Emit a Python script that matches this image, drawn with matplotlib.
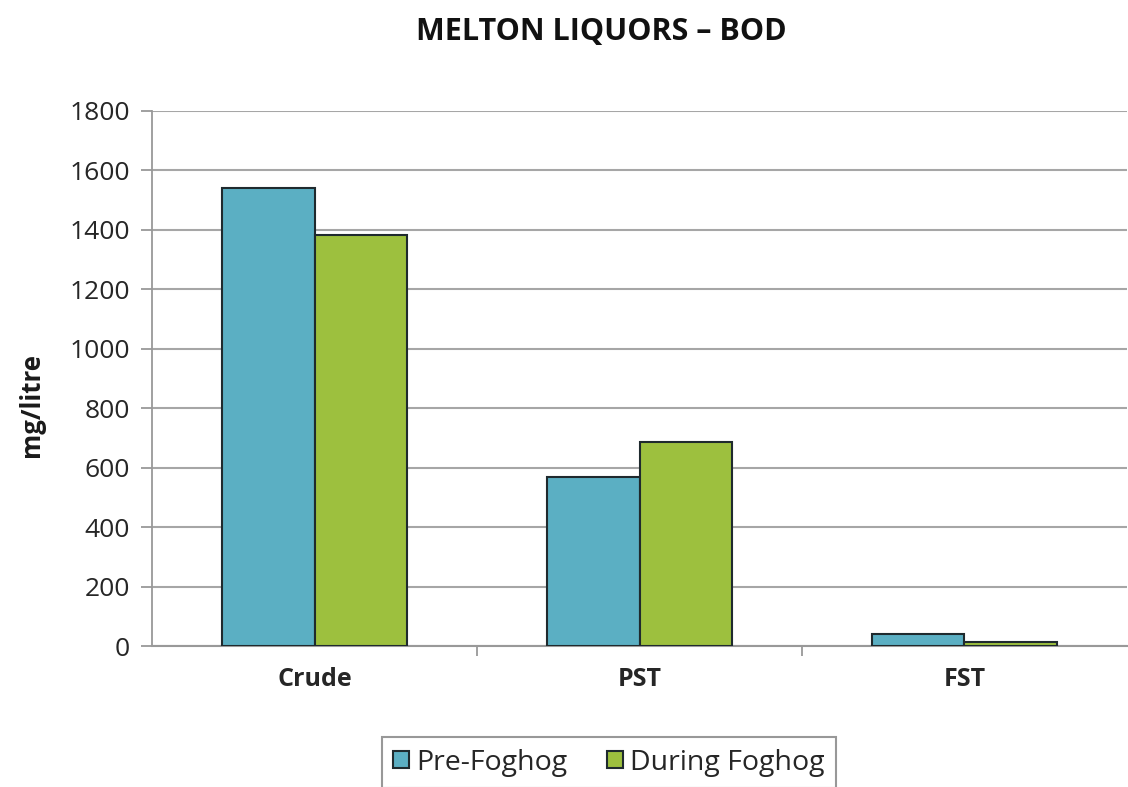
import numpy as np
import matplotlib.pyplot as plt

categories = ["Crude", "PST", "FST"]
pre_foghog = [1540, 570, 40]
during_foghog = [1382, 685, 15]
y_ticks = [0, 200, 400, 600, 800, 1000, 1200, 1400, 1600, 1800]

plt.rcParams['font.family'] = ['Open Sans', 'DejaVu Sans']

fig = plt.figure(figsize=(11.28, 7.87), dpi=100)
ax = fig.add_axes([0.135, 0.179, 0.864, 0.680])

x = np.arange(len(categories))
w = 0.285
ax.bar(x - w / 2, pre_foghog, w, color="#5BAFC3", edgecolor="#1f2a2e",
       linewidth=1.5, label="Pre-Foghog", zorder=3)
ax.bar(x + w / 2, during_foghog, w, color="#9DC03E", edgecolor="#1f2a2e",
       linewidth=1.5, label="During Foghog", zorder=3)

ax.set_xlim(-0.5, 2.5)
ax.set_ylim(0, 1800)
ax.set_yticks(y_ticks)
ax.set_yticklabels([str(v) for v in y_ticks], fontsize=19, color="#262626")
ax.set_xticks(x)
ax.set_xticklabels(categories, fontsize=18, fontweight="bold", color="#262626")
ax.tick_params(axis="x", length=0, pad=15)
ax.set_xticks([0.5, 1.5], minor=True)
ax.tick_params(axis="x", which="minor", length=7, color="#999999", width=1.3)
ax.tick_params(axis="y", length=8, color="#999999", width=1.3, pad=8)

ax.yaxis.grid(True, color="#a6a6a6", linewidth=1.5, zorder=0)
ax.set_axisbelow(True)
for s in ["top", "right"]:
    ax.spines[s].set_visible(False)
ax.spines["left"].set_color("#999999")
ax.spines["left"].set_linewidth(1.3)
ax.spines["bottom"].set_color("#999999")
ax.spines["bottom"].set_linewidth(1.5)

ax.set_ylabel("mg/litre", fontsize=18.5, fontweight="bold", labelpad=12,
              color="#1a1a1a")
ax.yaxis.set_label_coords(-0.11, 0.45)
fig.suptitle("MELTON LIQUORS – BOD", fontsize=22, fontweight="bold",
             x=0.533, y=0.978, va="top", color="#111111")

leg = fig.legend(loc="center", bbox_to_anchor=(0.540, 0.031), ncol=2,
                 fontsize=20.5, frameon=True, fancybox=False, edgecolor="#7f7f7f",
                 handlelength=0.55, handleheight=0.55, columnspacing=1.4,
                 handletextpad=0.25, borderpad=0.4)
leg.get_frame().set_linewidth(1.5)
for t in leg.get_texts():
    t.set_color("#262626")

fig.savefig("out.png", dpi=100)
